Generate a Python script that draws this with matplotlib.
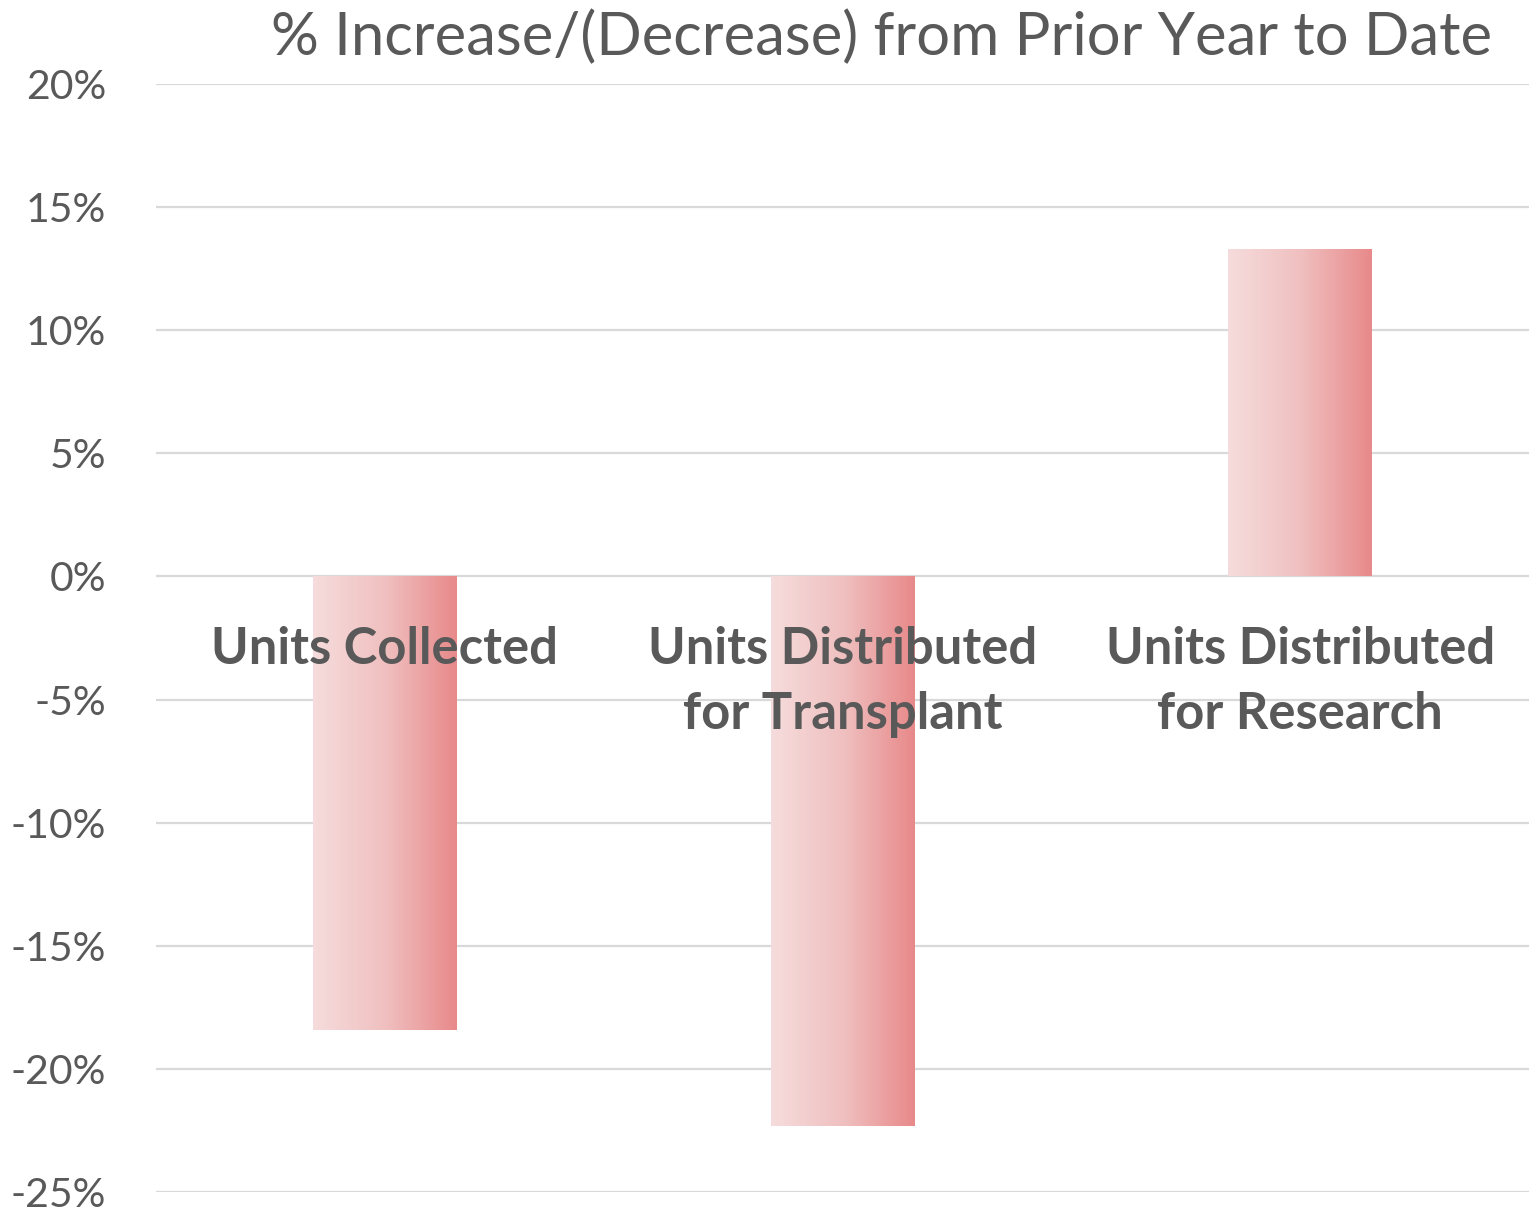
import numpy as np
import matplotlib.pyplot as plt
from matplotlib.colors import LinearSegmentedColormap

plt.rcParams['font.family'] = ['Lato', 'DejaVu Sans']

# DATA
categories = ["Units Collected", "Units Distributed\nfor Transplant", "Units Distributed\nfor Research"]
pct_change = [-18.4, -22.3, 13.3]
y_ticks = [20, 15, 10, 5, 0, -5, -10, -15, -20, -25]

text_color = "#595959"
grid_color = "#d9d9d9"
grad = LinearSegmentedColormap.from_list("pinkgrad", ["#f6dcdc", "#f0c0c0", "#e8898a"])

fig = plt.figure(figsize=(15.29, 12.18), dpi=100)
ax = fig.add_axes([0.1020, 0.0213, 0.8980, 0.9097])

x = np.arange(len(categories))
bar_w = 0.314
bars = ax.bar(x, pct_change, width=bar_w, color="none", edgecolor="none", zorder=2)

# gradient fill, left light -> right dark
g = np.linspace(0, 1, 256).reshape(1, -1)
for bar in bars:
    x0 = bar.get_x()
    y0 = bar.get_y()
    img = ax.imshow(g, cmap=grad, aspect="auto", interpolation="bicubic",
                    extent=[x0, x0 + bar.get_width(), y0, y0 + bar.get_height()],
                    zorder=2)
    img.set_clip_path(bar)

ax.set_xlim(-0.5, len(categories) - 0.5)
ax.set_ylim(-25, 20)
ax.set_yticks(y_ticks)
ax.set_yticklabels([f"{t}%" for t in y_ticks], fontsize=29.5, color=text_color)
ax.tick_params(axis="y", length=0, pad=36)
ax.set_xticks([])
ax.grid(axis="y", color=grid_color, linewidth=1.6, zorder=0)
ax.set_axisbelow(True)
for s in ax.spines.values():
    s.set_visible(False)

# category labels sit just under the zero line
for xi, label in zip(x, categories):
    ax.text(xi, -2.0, label, ha="center", va="top", fontsize=36.5, fontweight="bold",
            color=text_color, linespacing=1.47, zorder=3)

fig.text(0.5765, 0.969, "% Increase/(Decrease) from Prior Year to Date", ha="center",
         va="center", fontsize=43, color=text_color)

fig.savefig("out.png", dpi=100)
